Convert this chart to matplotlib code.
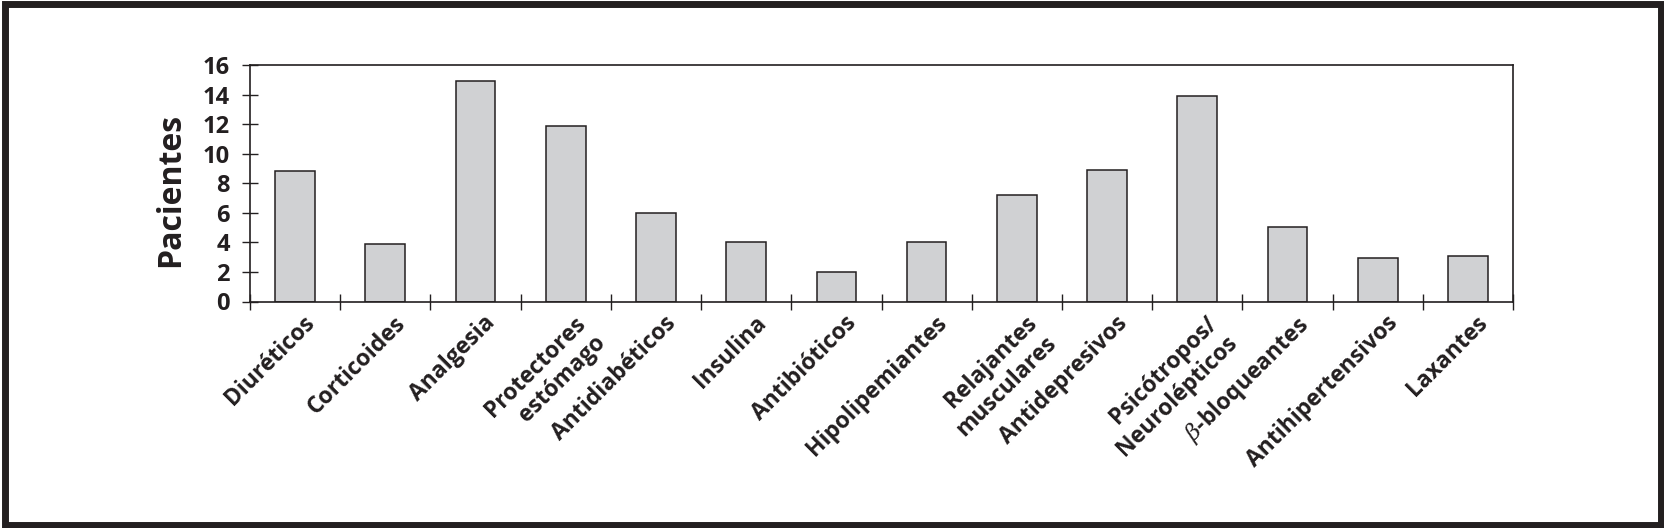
import matplotlib
matplotlib.use("Agg")
import matplotlib.pyplot as plt
from matplotlib.patches import Rectangle
from matplotlib.transforms import ScaledTranslation
import numpy as np

categories = ["Diuréticos", "Corticoides", "Analgesia", "Protectores\nestómago",
              "Antidiabéticos", "Insulina", "Antibióticos", "Hipolipemiantes",
              "Relajantes\nmusculares", "Antidepresivos", "Psicótropos/\nNeurolépticos",
              r"$\beta$-bloqueantes", "Antihipertensivos", "Laxantes"]
pacientes = [8.8, 3.9, 14.9, 11.9, 6.0, 4.0, 2.0, 4.0, 7.2, 8.9, 13.9, 5.05, 2.95, 3.1]
yticks = [0, 2, 4, 6, 8, 10, 12, 14, 16]
ylabel = "Pacientes"

plt.rcParams['font.family'] = ['Open Sans', 'DejaVu Sans']
plt.rcParams['mathtext.fontset'] = 'dejavuserif'
ink = '#231f20'

W, H = 1664, 528
fig = plt.figure(figsize=(W / 100, H / 100), dpi=100)
fig.patch.set_facecolor('white')

# outer frame
fig.patches.append(Rectangle((4.5 / W, 3.5 / H), (W - 8) / W, (H - 7) / H,
                             transform=fig.transFigure, fill=False,
                             edgecolor=ink, linewidth=5))

ax = fig.add_axes([250 / W, 1 - 301.5 / H, 1263 / W, 236.5 / H])
x = np.arange(len(categories))
ax.bar(x, pacientes, width=0.44, color='#d0d1d3', edgecolor=ink, linewidth=1.1)

ax.set_xlim(-0.5, len(categories) - 0.5)
ax.set_ylim(0, 16)
ax.set_yticks(yticks)
ax.set_yticklabels([str(v) for v in yticks], fontsize=17, fontweight='bold', color=ink)
ax.tick_params(axis='y', direction='inout', length=11, width=1.0, color=ink, pad=9)

ax.set_xticks(x)
ax.set_xticklabels(categories, rotation=45, ha='right', va='top',
                   rotation_mode='anchor', fontsize=16.5, fontweight='bold',
                   color=ink, multialignment='right')
ax.tick_params(axis='x', which='major', length=0, pad=10)
ax.set_xticks(np.arange(-0.5, len(categories), 1.0), minor=True)
ax.tick_params(axis='x', which='minor', direction='inout', length=11, width=1.0, color=ink)

offset = ScaledTranslation(8 / 100, 4 / 100, fig.dpi_scale_trans)
for lab in ax.get_xticklabels():
    lab.set_transform(lab.get_transform() + offset)

for s in ax.spines.values():
    s.set_color(ink)
    s.set_linewidth(1.2)

fig.text(171 / W, 1 - 190 / H, ylabel, rotation=90, ha='center', va='center',
         fontsize=23, fontweight='bold', color=ink)

fig.savefig('out.png', dpi=100, facecolor='white')
